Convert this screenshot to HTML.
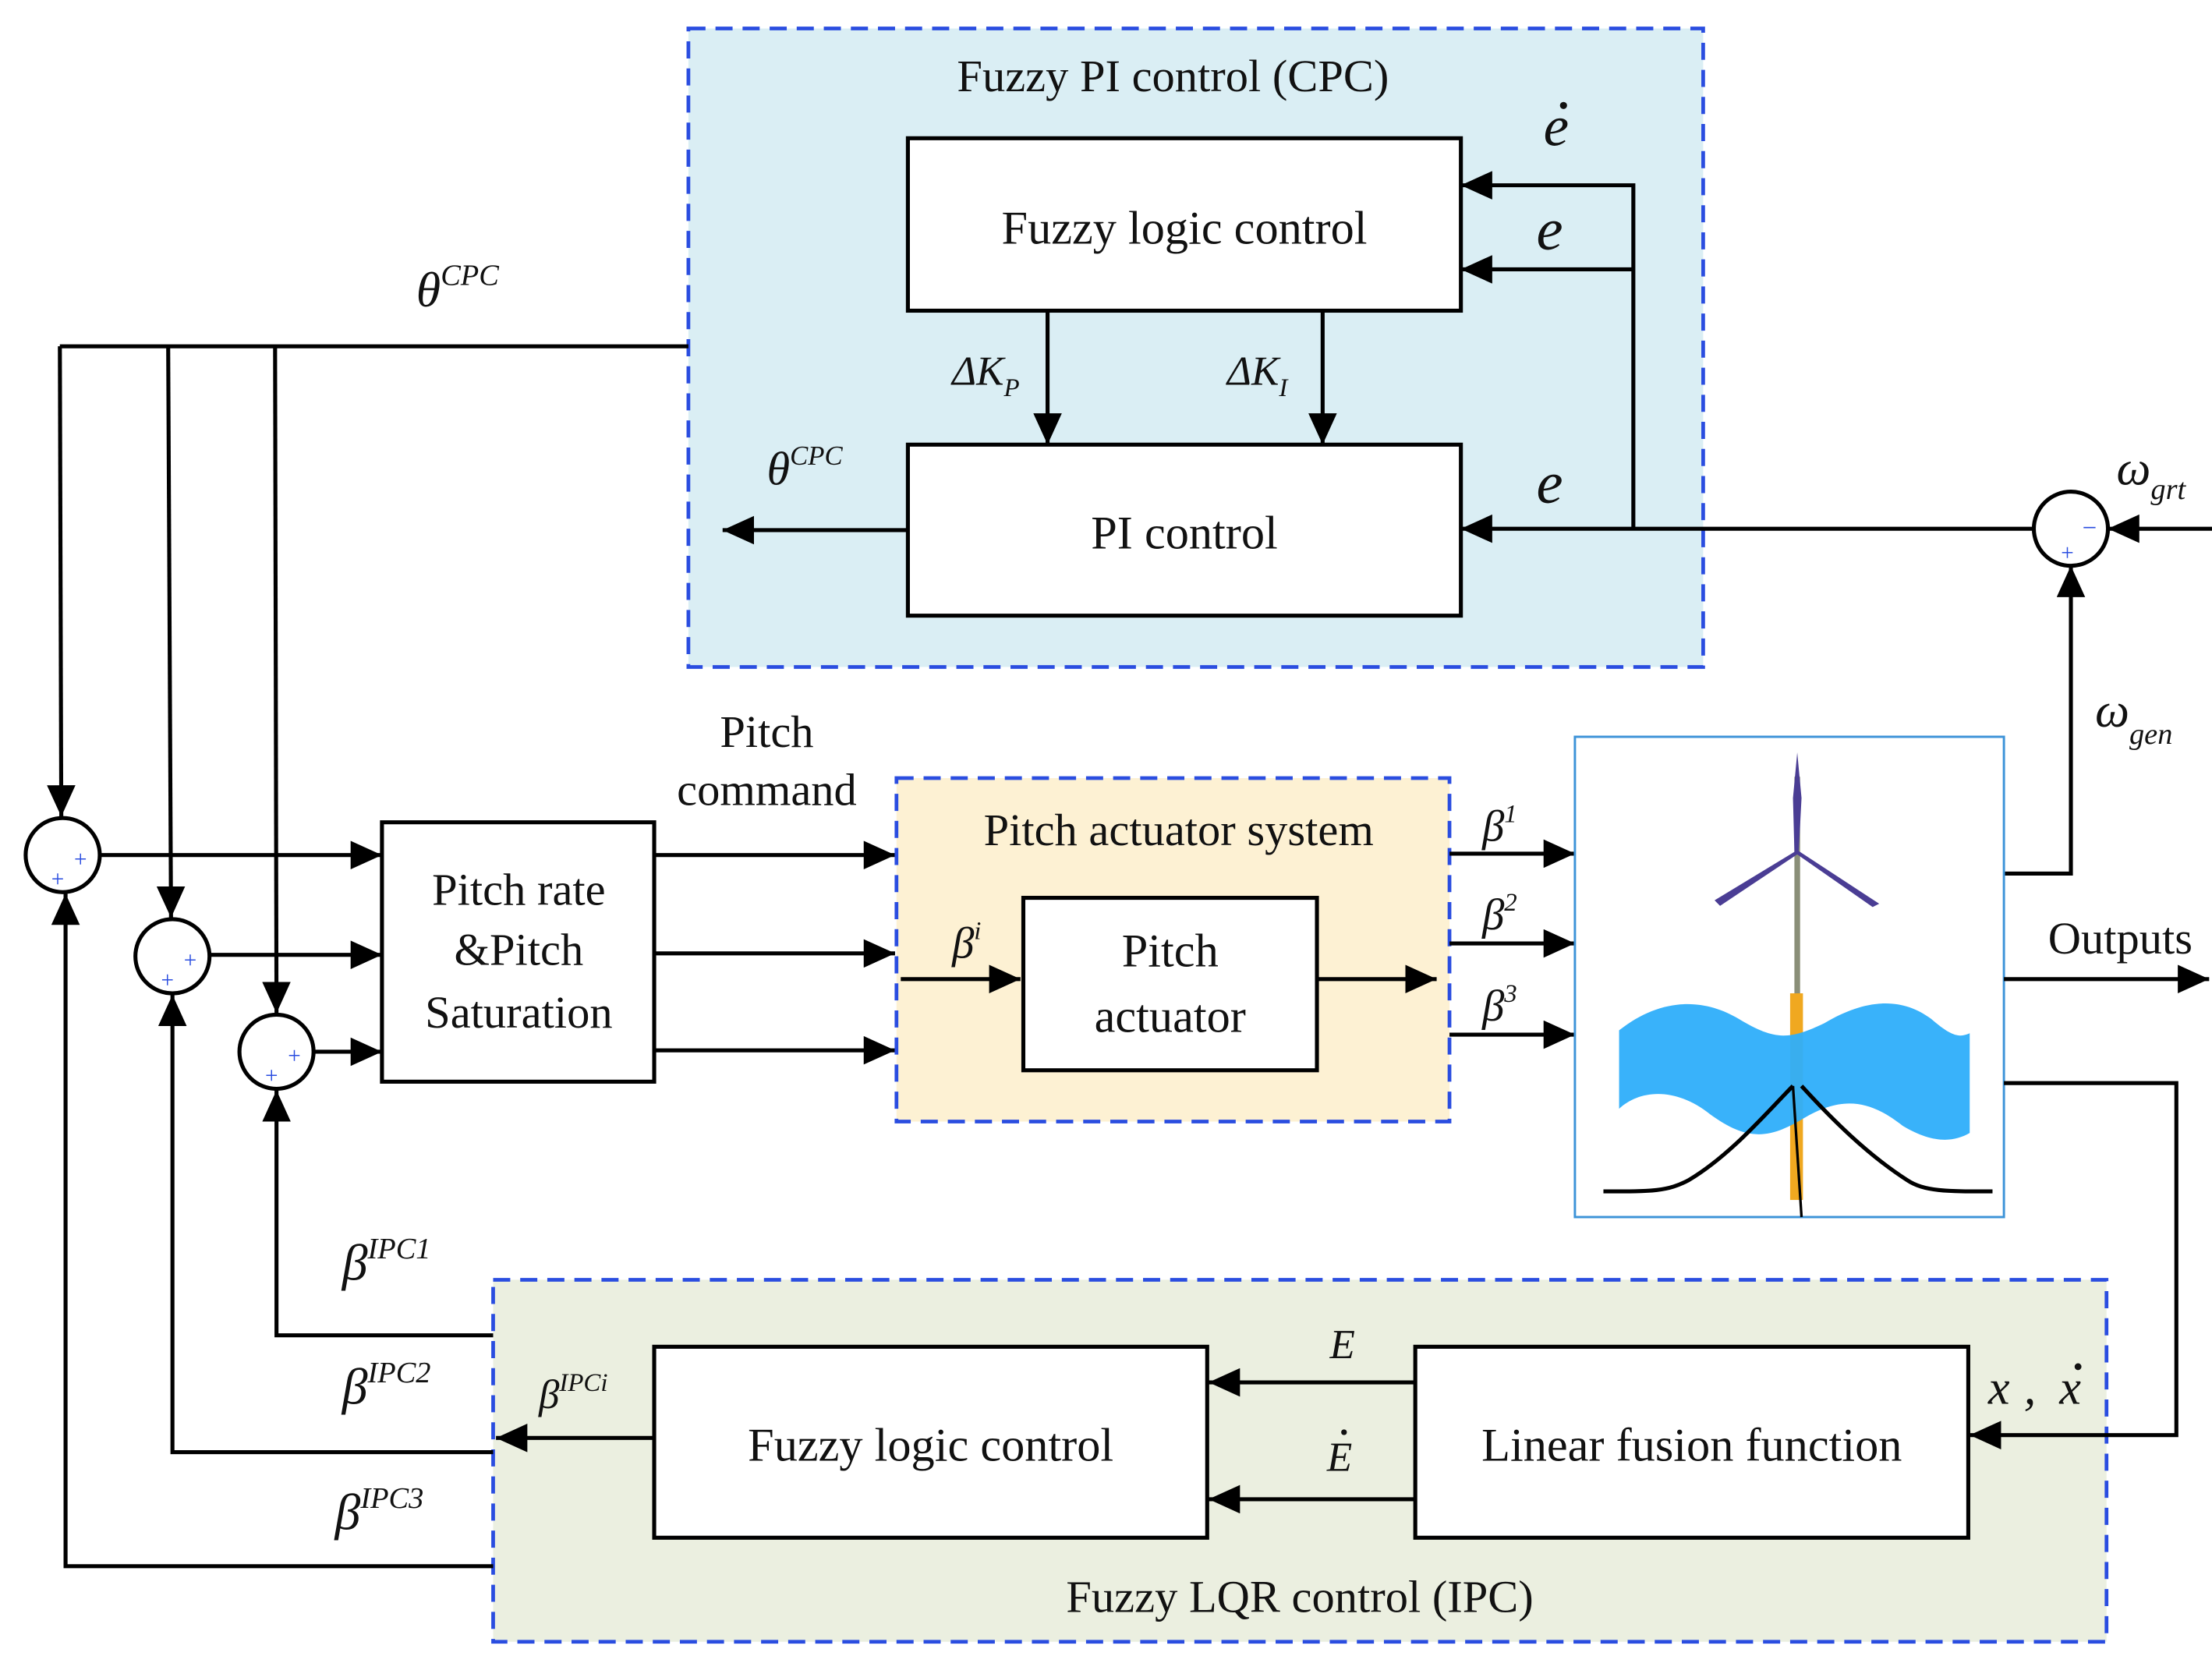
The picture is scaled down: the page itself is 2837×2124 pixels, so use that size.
<!DOCTYPE html>
<html><head><meta charset="utf-8"><style>
html,body{margin:0;padding:0;background:#fff;}
svg{display:block;}
text{font-family:"Liberation Serif",serif;fill:#111;}
.it{font-style:italic;}
</style></head><body>
<svg width="2837" height="2124" viewBox="0 0 1552 1162" preserveAspectRatio="none" xmlns="http://www.w3.org/2000/svg">
<defs>
<marker id="A" viewBox="0 0 22 20" refX="22" refY="10" markerWidth="22" markerHeight="20" markerUnits="userSpaceOnUse" orient="auto"><path d="M0,0 L22,10 L0,20 z" fill="#000"/></marker>
</defs>
<style>
.l{stroke:#000;stroke-width:2.8;fill:none;}
.ar{stroke:#000;stroke-width:2.8;fill:none;marker-end:url(#A);}
.b{stroke:#000;stroke-width:2.8;fill:#fff;}
.d{stroke:#2a4de0;stroke-width:2.6;stroke-dasharray:12 7;}
</style>

<!-- CPC box -->
<rect x="483" y="20" width="712" height="448" fill="#daeef4" class="d"/>
<text x="823" y="64" font-size="32" text-anchor="middle">Fuzzy PI control (CPC)</text>
<rect x="637" y="97" width="388" height="121" class="b"/>
<text x="831" y="171" font-size="33" text-anchor="middle">Fuzzy logic control</text>
<rect x="637" y="312" width="388" height="120" class="b"/>
<text x="831" y="385" font-size="33" text-anchor="middle">PI control</text>
<line x1="735" y1="218" x2="735" y2="312" class="ar"/>
<line x1="928" y1="218" x2="928" y2="312" class="ar"/>
<text x="668" y="270" font-size="29" class="it">ΔK<tspan font-size="18" dy="8">P</tspan></text>
<text x="861" y="270" font-size="29" class="it">ΔK<tspan font-size="18" dy="8">I</tspan></text>
<polyline points="1146,371 1146,130 1025,130" class="ar"/>
<line x1="1146" y1="189" x2="1025" y2="189" class="ar"/>
<line x1="1426" y1="371" x2="1025" y2="371" class="ar"/>
<line x1="637" y1="372" x2="507" y2="372" class="ar"/>
<text x="1083" y="102" font-size="40" class="it">e</text>
<circle cx="1097" cy="74" r="2.5" fill="#111"/>
<text x="1078" y="175" font-size="42" class="it">e</text>
<text x="1078" y="353" font-size="42" class="it">e</text>
<text x="538" y="340" font-size="33" class="it">θ<tspan font-size="19" dy="-14">CPC</tspan></text>
<text x="292" y="215" font-size="35" class="it">θ<tspan font-size="21" dy="-15">CPC</tspan></text>

<!-- error sum -->
<circle cx="1453" cy="371" r="26" class="b"/>
<text x="1461" y="376" font-size="18" style="fill:#2a4de0">−</text>
<text x="1446" y="393" font-size="16" style="fill:#2a4de0">+</text>
<line x1="1552" y1="371" x2="1479" y2="371" class="ar"/>
<polyline points="1406,613 1453,613 1453,397" class="ar"/>
<text x="1485" y="340" font-size="34" class="it">ω<tspan font-size="21" dy="10">grt</tspan></text>
<text x="1470" y="510" font-size="34" class="it">ω<tspan font-size="21" dy="12">gen</tspan></text>

<!-- top theta distribution -->
<line x1="42" y1="243" x2="483" y2="243" class="l"/>
<line x1="42" y1="243" x2="43" y2="573" class="ar"/>
<line x1="118" y1="243" x2="120" y2="644" class="ar"/>
<line x1="193" y1="243" x2="194" y2="711" class="ar"/>

<!-- sum circles -->
<circle cx="44" cy="600" r="26" class="b"/>
<text x="52" y="608" font-size="16" style="fill:#2a4de0">+</text>
<text x="36" y="622" font-size="16" style="fill:#2a4de0">+</text>
<circle cx="121" cy="671" r="26" class="b"/>
<text x="129" y="679" font-size="16" style="fill:#2a4de0">+</text>
<text x="113" y="693" font-size="16" style="fill:#2a4de0">+</text>
<circle cx="194" cy="738" r="26" class="b"/>
<text x="202" y="746" font-size="16" style="fill:#2a4de0">+</text>
<text x="186" y="760" font-size="16" style="fill:#2a4de0">+</text>
<line x1="70" y1="600" x2="268" y2="600" class="ar"/>
<line x1="147" y1="670" x2="268" y2="670" class="ar"/>
<line x1="220" y1="738" x2="268" y2="738" class="ar"/>

<!-- Pitch rate box -->
<rect x="268" y="577" width="191" height="182" class="b"/>
<text x="364" y="635" font-size="32" text-anchor="middle">Pitch rate</text>
<text x="364" y="677" font-size="32" text-anchor="middle">&amp;Pitch</text>
<text x="364" y="721" font-size="32" text-anchor="middle">Saturation</text>
<line x1="459" y1="600" x2="628" y2="600" class="ar"/>
<line x1="459" y1="669" x2="628" y2="669" class="ar"/>
<line x1="459" y1="737" x2="628" y2="737" class="ar"/>
<text x="538" y="524" font-size="32" text-anchor="middle">Pitch</text>
<text x="538" y="565" font-size="32" text-anchor="middle">command</text>

<!-- Pitch actuator system -->
<rect x="629" y="546" width="388" height="241" fill="#fdf1d3" class="d"/>
<text x="827" y="593" font-size="32" text-anchor="middle">Pitch actuator system</text>
<rect x="718" y="630" width="206" height="121" class="b"/>
<text x="821" y="678" font-size="33" text-anchor="middle">Pitch</text>
<text x="821" y="724" font-size="33" text-anchor="middle">actuator</text>
<line x1="632" y1="687" x2="716" y2="687" class="ar"/>
<line x1="924" y1="687" x2="1008" y2="687" class="ar"/>
<text x="668" y="672" font-size="31" class="it">β<tspan font-size="18" dy="-13">i</tspan></text>
<line x1="1017" y1="599" x2="1105" y2="599" class="ar"/>
<line x1="1017" y1="662" x2="1105" y2="662" class="ar"/>
<line x1="1017" y1="726" x2="1105" y2="726" class="ar"/>
<text x="1040" y="590" font-size="31" class="it">β<tspan font-size="18" dy="-13">1</tspan></text>
<text x="1040" y="652" font-size="31" class="it">β<tspan font-size="18" dy="-13">2</tspan></text>
<text x="1040" y="716" font-size="31" class="it">β<tspan font-size="18" dy="-13">3</tspan></text>

<!-- Turbine -->
<rect x="1105" y="517" width="301" height="337" fill="#fff" stroke="#3d93d8" stroke-width="1.6"/>
<line x1="1261" y1="545" x2="1261" y2="830" stroke="#8a8f78" stroke-width="4"/>
<rect x="1256" y="697" width="9" height="145" fill="#f0a820"/>
<path d="M1261,528 L1264,560 L1262,598 L1259,598 L1258,560 Z" fill="#4a3d94"/>
<path d="M1261,598 L1205,632 L1207,634 Z" fill="#4a3d94" stroke="#4a3d94" stroke-width="2.5"/>
<path d="M1261,598 L1316,634 L1314,635 Z" fill="#4a3d94" stroke="#4a3d94" stroke-width="2.5"/>
<path d="M1136,723 C1165,700 1195,700 1220,715 C1245,730 1255,730 1280,718 C1310,700 1335,700 1355,715 C1370,728 1375,728 1382,725 L1382,795 C1370,802 1355,802 1335,790 C1310,770 1290,770 1265,785 C1240,800 1225,800 1200,782 C1175,762 1150,765 1136,778 Z" fill="#2eaefa" opacity="0.95"/>
<path d="M1125,836 C1160,836 1170,836 1185,828 C1215,810 1240,780 1258,762" class="l" stroke-width="1.8"/>
<path d="M1398,836 C1365,836 1350,836 1338,828 C1310,810 1285,785 1264,762" class="l" stroke-width="1.8"/>
<line x1="1258" y1="762" x2="1264" y2="854" stroke="#000" stroke-width="1.8"/>
<line x1="1406" y1="687" x2="1550" y2="687" class="ar"/>
<text x="1437" y="669" font-size="32">Outputs</text>

<!-- IPC box -->
<rect x="346" y="898" width="1132" height="254" fill="#ebefe0" class="d"/>
<polyline points="1406,760 1527,760 1527,1007 1382,1007" class="ar"/>
<text x="912" y="1131" font-size="32" text-anchor="middle">Fuzzy LQR control (IPC)</text>
<rect x="459" y="945" width="388" height="134" class="b"/>
<text x="653" y="1025" font-size="33" text-anchor="middle">Fuzzy logic control</text>
<rect x="993" y="945" width="388" height="134" class="b"/>
<text x="1187" y="1025" font-size="33" text-anchor="middle">Linear fusion function</text>
<line x1="993" y1="970" x2="848" y2="970" class="ar"/>
<line x1="993" y1="1052" x2="848" y2="1052" class="ar"/>
<text x="933" y="953" font-size="29" class="it">E</text>
<text x="931" y="1032" font-size="29" class="it">E</text>
<circle cx="943" cy="1005" r="2" fill="#111"/>
<text x="1395" y="985" font-size="34" class="it">x</text>
<text x="1420" y="985" font-size="34" class="it">,</text>
<text x="1445" y="985" font-size="34" class="it">x</text>
<circle cx="1458" cy="959" r="2.4" fill="#111"/>
<line x1="459" y1="1009" x2="348" y2="1009" class="ar"/>
<text x="378" y="988" font-size="29" class="it">β<tspan font-size="18" dy="-12">IPCi</tspan></text>
<polyline points="346,937 194,937 194,765" class="ar"/>
<polyline points="346,1019 121,1019 121,698" class="ar"/>
<polyline points="346,1099 46,1099 46,627" class="ar"/>
<text x="240" y="898" font-size="36" class="it">β<tspan font-size="21" dy="-15">IPC1</tspan></text>
<text x="240" y="985" font-size="36" class="it">β<tspan font-size="21" dy="-15">IPC2</tspan></text>
<text x="235" y="1073" font-size="36" class="it">β<tspan font-size="21" dy="-15">IPC3</tspan></text>
</svg>
</body></html>
